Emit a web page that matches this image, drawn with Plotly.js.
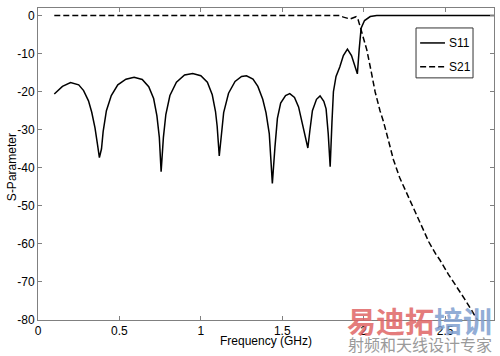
<!DOCTYPE html>
<html>
<head>
<meta charset="utf-8">
<script src="https://cdn.plot.ly/plotly-3.0.1.min.js"></script>
<style>html,body{margin:0;padding:0;background:#fff;}#chart{width:500px;height:356px;}</style>
</head>
<body>
<div id="chart"></div>
<script>
// S11 (dB) vs frequency (GHz)
const s11Freq = [0.10,0.15,0.20,0.25,0.28,0.31,0.33,0.35,0.365,0.377,0.39,0.40,0.42,0.45,0.49,0.54,0.59,0.64,0.68,0.71,0.73,0.745,0.756,0.77,0.785,0.81,0.85,0.90,0.95,1.00,1.04,1.07,1.09,1.10,1.113,1.125,1.14,1.17,1.21,1.25,1.28,1.32,1.35,1.38,1.40,1.42,1.439,1.455,1.47,1.49,1.52,1.546,1.575,1.60,1.62,1.64,1.657,1.67,1.685,1.71,1.732,1.755,1.769,1.782,1.794,1.805,1.814,1.83,1.853,1.875,1.90,1.925,1.945,1.961,1.972,1.984,2.005,2.04,2.08,2.80];
const s11Val  = [-20.6,-18.6,-17.6,-18.2,-19.7,-22.4,-25.4,-29.5,-33.8,-37.3,-35.0,-30.5,-25.0,-21.0,-18.2,-16.7,-16.2,-16.8,-18.7,-21.8,-26.3,-32.0,-41.0,-32.0,-26.0,-21.0,-17.5,-15.6,-15.2,-15.8,-17.5,-20.8,-25.2,-29.0,-36.9,-31.0,-25.5,-20.4,-17.3,-16.0,-15.8,-16.7,-18.6,-22.0,-25.5,-31.0,-44.1,-34.5,-27.0,-23.0,-21.0,-20.5,-21.5,-24.0,-28.0,-32.0,-34.8,-30.0,-25.0,-22.0,-21.1,-22.5,-24.5,-31.0,-39.7,-28.0,-20.0,-16.0,-13.5,-10.5,-8.8,-10.5,-13.0,-15.3,-9.0,-3.3,-1.3,-0.25,0,0];
// S21 (dB) vs frequency (GHz)
const s21Freq = [0.10,0.50,1.00,1.50,1.85,1.876,1.916,1.953,1.965,1.976,1.988,2.00,2.019,2.045,2.07,2.10,2.121,2.15,2.182,2.22,2.265,2.31,2.357,2.40,2.44,2.469,2.52,2.572,2.62,2.66,2.695,2.72];
const s21Val  = [0,0,0,0,0,-0.4,-0.9,-0.3,-1.0,-2.6,-4.6,-6.5,-9.0,-14.5,-20.0,-25.0,-27.8,-32.5,-37.8,-42.5,-46.7,-51.3,-55.5,-59.5,-62.5,-64.3,-68.0,-71.3,-74.5,-77.3,-79.6,-81.5];
const seriesNames = ["S11","S21"];
const xTicks = [0,0.5,1,1.5,2,2.5];
const xTickText = ["0","0.5","1","1.5","2","2.5"];
const yTicks = [0,-10,-20,-30,-40,-50,-60,-70,-80];
const yTickText = ["0","-10","-20","-30","-40","-50","-60","-70","-80"];
const xTitle = "Frequency (GHz)";
const yTitle = "S-Parameter";

const font = {family:"Liberation Sans, Arial, sans-serif", size:12, color:"#000"};
const s11Line = {color:"#000", width:1.5, dash:"solid"};
const s21Line = {color:"#000", width:1.5, dash:"6px,3px"};
const traces = [
  {x:s11Freq, y:s11Val, name:seriesNames[0], type:"scatter", mode:"lines", line:s11Line, showlegend:false},
  {x:s21Freq, y:s21Val, name:seriesNames[1], type:"scatter", mode:"lines", line:s21Line, showlegend:false}
];
const axisCommon = {showline:true, linecolor:"#808080", linewidth:1, mirror:"ticks", ticks:"inside",
  ticklen:4, tickcolor:"#808080", showgrid:false, zeroline:false, tickfont:font, automargin:false};

// legend box drawn in paper coordinates
const L = {x0:0.829, x1:0.954, y0:0.776, y1:0.936, lx0:0.838, lx1:0.8925, tx:0.897, ry:[0.888,0.812]};
const shapes = [
  {type:"rect", xref:"paper", yref:"paper", x0:L.x0, x1:L.x1, y0:L.y0, y1:L.y1,
   line:{color:"#333", width:1}, fillcolor:"#fff", layer:"above"},
  {type:"line", xref:"paper", yref:"paper", x0:L.lx0, x1:L.lx1, y0:L.ry[0], y1:L.ry[0], line:s11Line, layer:"above"},
  {type:"line", xref:"paper", yref:"paper", x0:L.lx0, x1:L.lx1, y0:L.ry[1], y1:L.ry[1], line:s21Line, layer:"above"}
];
const annotations = seriesNames.map((n,i)=>({xref:"paper", yref:"paper", x:L.tx, y:L.ry[i],
  xanchor:"left", yanchor:"middle", showarrow:false, text:n, font:font}));
annotations.push(
  {xref:"paper", yref:"paper", x:0.5, y:-0.067, xanchor:"center", yanchor:"middle", showarrow:false,
   text:xTitle, font:font},
  {xref:"paper", yref:"paper", x:-0.057, y:0.49, xanchor:"center", yanchor:"middle", showarrow:false,
   text:yTitle, textangle:-90, font:font},
  {xref:"paper", yref:"paper", x:1.0, y:0.0, xanchor:"right", yanchor:"middle", showarrow:false,
   text:"<b><span style='color:#e06666'>易迪拓</span><span style='color:#7f9fd0'>培训</span></b>",
   font:{family:"Noto Sans CJK SC", size:29}, opacity:0.85},
  {xref:"paper", yref:"paper", x:1.0, y:-0.076, xanchor:"right", yanchor:"middle", showarrow:false,
   text:"射频和天线设计专家", font:{family:"Noto Sans CJK SC", size:16, color:"#9a9a9a"}}
);

const layout = {
  width:500, height:356, paper_bgcolor:"#fff", plot_bgcolor:"#fff",
  margin:{l:38, r:6, t:8, b:36},
  font:font,
  showlegend:false,
  xaxis:Object.assign({}, axisCommon, {range:[0,2.8], tickvals:xTicks, ticktext:xTickText}),
  yaxis:Object.assign({}, axisCommon, {range:[-80,2], tickvals:yTicks, ticktext:yTickText}),
  shapes:shapes,
  annotations:annotations
};
Plotly.newPlot("chart", traces, layout, {displayModeBar:false, staticPlot:true});
</script>
</body>
</html>
